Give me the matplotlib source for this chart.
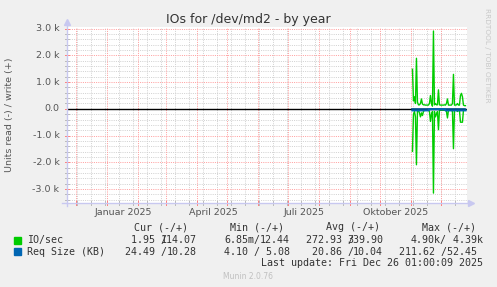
import matplotlib
matplotlib.use("Agg")
import matplotlib.pyplot as plt
import pandas as pd

W, H = 497, 287

title = "IOs for /dev/md2 - by year"
ylabel = "Units read (-) / write (+)"

t_start = pd.Timestamp("2024-11-21 01:05")
t_end = pd.Timestamp("2025-12-26 01:05")

# daily averages, 2025-11-02 .. 2025-12-25
days = pd.date_range("2025-11-02", periods=54, freq="D")
io_write = [1480, 300, 450, 200, 1890, 250, 150, 150, 200, 370,
            180, 150, 150, 140, 140, 140, 140, 200, 500, 200,
            100, 2910, 150, 200, 150, 150, 710, 150, 140, 140,
            140, 140, 150, 140, 200, 370, 140, 140, 140, 140,
            200, 1290, 140, 140, 150, 200, 140, 140, 500, 580,
            450, 140, 120, 120]
io_read = [1590, 200, 100, 300, 2090, 100, 50, 150, 300, 150,
           250, 100, 50, 50, 50, 50, 50, 100, 470, 200,
           100, 3150, 100, 300, 200, 100, 780, 50, 50, 50,
           50, 50, 50, 50, 100, 340, 50, 50, 50, 50,
           100, 1490, 50, 50, 50, 100, 50, 50, 500, 500,
           500, 50, 50, 50]
req_write = [10] * 54
req_read = [55] * 17 + [15] * 16 + [55] * 21

label_dates = pd.to_datetime(["2025-01-16 16:00", "2025-04-16 16:00",
                              "2025-07-16 16:00", "2025-10-16 16:00"])
label_texts = ["Januar 2025", "April 2025", "Juli 2025", "Oktober 2025"]

ytick_vals = [-3000, -2000, -1000, 0, 1000, 2000, 3000]
ytick_texts = ["-3.0 k", "-2.0 k", "-1.0 k", "0.0", "1.0 k", "2.0 k", "3.0 k"]

legend_names = ["IO/sec", "Req Size (KB)"]
legend_colors = ["#00CC00", "#0066B3"]
headers = ["Cur (-/+)", "Min (-/+)", "Avg (-/+)", "Max (-/+)"]
cur_neg = ["1.95 /", "24.49 /"]
cur_pos = ["114.07", "10.28"]
min_neg = ["6.85m/", "4.10 /"]
min_pos = ["12.44", " 5.08"]
avg_neg = ["272.93 /", "20.86 /"]
avg_pos = ["339.90", "10.04"]
max_neg = ["4.90k/", "211.62 /"]
max_pos = [" 4.39k", "52.45 "]
last_update = "Last update: Fri Dec 26 01:00:09 2025"


def fx(x):
    return x / W


def fy(y):
    return 1 - y / H


fig = plt.figure(figsize=(W / 100, H / 100), dpi=100, facecolor="#F0F0F0")
ax_l, ax_r, ax_t, ax_b = 66.5, 466.5, 27, 203
ax = fig.add_axes([fx(ax_l), fy(ax_b), (ax_r - ax_l) / W, (ax_b - ax_t) / H])
ax.set_facecolor("white")
ax.set_xlim(t_start, t_end)
ax.set_ylim(-3520, 3060)
for s in ax.spines.values():
    s.set_visible(False)
ax.tick_params(length=0)
ax.set_yticks([])
ax.set_xticks([])

px = 0.72  # one pixel in points
minor_c, major_c = "#D2D2D2", "#FFA0A0"
dots = dict(lw=px, ls=(0, (1, 1.2)))

# horizontal grid
for v in range(-3400, 3001, 200):
    if v % 1000 == 0:
        ax.axhline(v, color=major_c, zorder=1, **dots)
    else:
        ax.axhline(v, color=minor_c, zorder=0, **dots)

# vertical grid
minor_days = pd.date_range("2024-12-02", t_end, freq="14D")
month_days = pd.date_range("2024-12-01", t_end, freq="MS")
for d in minor_days:
    ax.axvline(d, color=minor_c, zorder=0, **dots)
for d in month_days:
    ax.axvline(d, color=major_c, zorder=1, **dots)

# tick marks
tr = ax.get_xaxis_transform()
tk = 2.0 / (ax_b - ax_t)
for d in minor_days:
    ax.plot([d, d], [-tk, tk], color="#BBBBBB", lw=px, transform=tr, clip_on=False)
for d in month_days:
    ax.plot([d, d], [-tk, tk], color="#FF8080", lw=px, transform=tr, clip_on=False)
tr_y = ax.get_yaxis_transform()
tkx = 2.0 / (ax_r - ax_l)
for v in range(-3400, 3001, 200):
    c = "#FF8080" if v % 1000 == 0 else "#BBBBBB"
    ax.plot([-tkx, tkx], [v, v], color=c, lw=px, transform=tr_y, clip_on=False)

# data
ax.plot(days, io_write, color="#00CC00", lw=1.0, zorder=3)
ax.plot(days, [-v for v in io_read], color="#00CC00", lw=1.0, zorder=3)
ax.axhline(0, color="black", lw=1.0, zorder=4)
ax.plot(days, req_write, color="#0066B3", lw=1.2, zorder=3)
ax.plot(days, [-v for v in req_read], color="#0066B3", lw=1.6, zorder=5)

# axis lines with arrows
axis_c = "#C8C8F0"
fig.add_artist(plt.Line2D([fx(ax_l), fx(ax_l)], [fy(ax_b + 3), fy(ax_t - 3)],
                          color=axis_c, lw=1.0))
fig.add_artist(plt.Line2D([fx(ax_l - 4), fx(ax_r + 2)], [fy(ax_b), fy(ax_b)],
                          color=axis_c, lw=1.0))
fig.add_artist(plt.Line2D([fx(ax_l)], [fy(ax_t - 5)], marker="^", ms=5,
                          color=axis_c, mec=axis_c))
fig.add_artist(plt.Line2D([fx(ax_r + 4)], [fy(ax_b)], marker=">", ms=5,
                          color=axis_c, mec=axis_c))

txt_c = "#555555"
for v, t in zip(ytick_vals, ytick_texts):
    yy = ax_b - (v + 3520) / 6580 * (ax_b - ax_t)
    fig.text(fx(59.5), fy(yy), t, ha="right", va="center", fontsize=6.8, color=txt_c)
for d, t in zip(label_dates, label_texts):
    xx = ax_l + (d - t_start) / (t_end - t_start) * (ax_r - ax_l)
    fig.text(fx(xx), fy(212.5), t, ha="center", va="center", fontsize=6.8, color=txt_c)

fig.text(fx(248.5), fy(19.5), title, ha="center", va="center", fontsize=9, color="#333333")
fig.text(fx(10), fy(115), ylabel, ha="center", va="center", rotation=90,
         fontsize=6.8, color=txt_c)
fig.text(fx(487), fy(55), "RRDTOOL / TOBI OETIKER", ha="center", va="center",
         rotation=270, fontsize=5.3, color="#C8C8C8")
fig.text(fx(248), fy(276.5), "Munin 2.0.76", ha="center", va="center",
         fontsize=5.5, color="#C0C0C0")

# legend
mono = dict(family="DejaVu Sans Mono", fontsize=7.2, color="#333333", va="center")
for x0, h in zip([134, 230, 326, 422], headers):
    fig.text(fx(x0), fy(227.5), h, ha="left", **mono)
# (right end of the read part, right end of the write part)
cols = [(167, 197, cur_neg, cur_pos), (260, 290, min_neg, min_pos),
        (354, 383, avg_neg, avg_pos), (447, 483, max_neg, max_pos)]
for i, (name, col) in enumerate(zip(legend_names, legend_colors)):
    yy = 240 + i * 11.8
    fig.add_artist(plt.Rectangle((fx(14), fy(yy + 3.5)), 7 / W, 7 / H,
                                 color=col, transform=fig.transFigure))
    fig.text(fx(27), fy(yy), name, ha="left", **mono)
    for xn, xp, neg, pos in cols:
        fig.text(fx(xn), fy(yy), neg[i], ha="right", **mono)
        fig.text(fx(xp), fy(yy), pos[i], ha="right", **mono)
fig.text(fx(483), fy(263.5), last_update, ha="right", **mono)

fig.savefig("out.png", dpi=100, facecolor=fig.get_facecolor())
